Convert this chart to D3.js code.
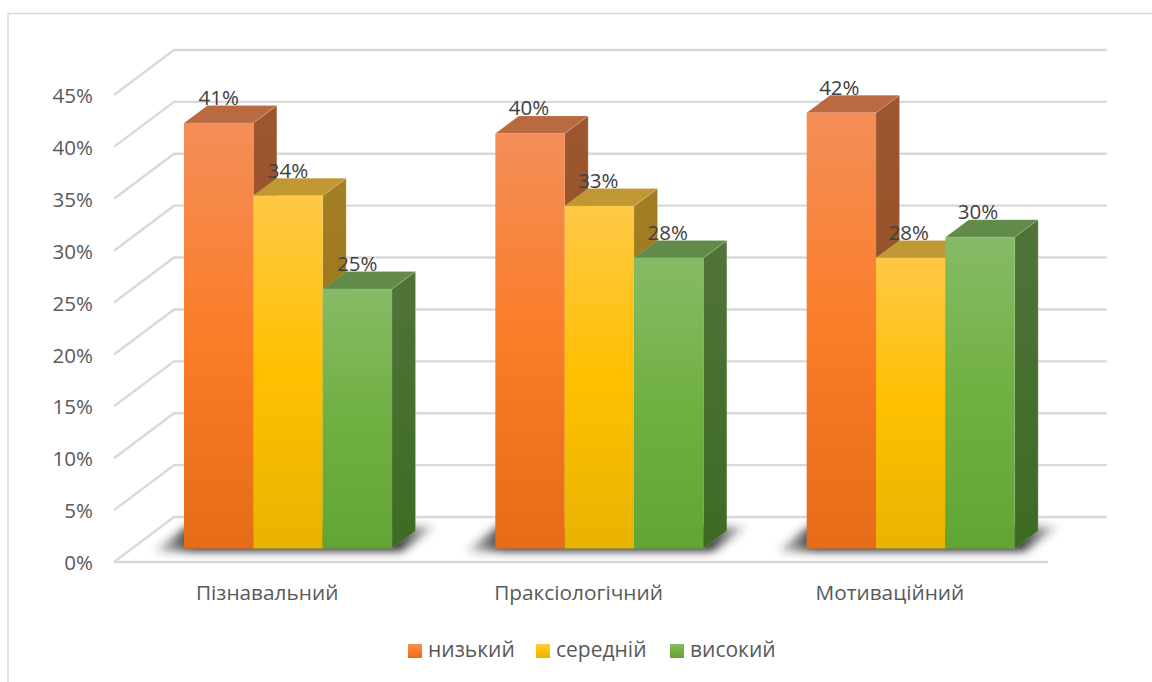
<!DOCTYPE html>
<html lang="uk">
<head>
<meta charset="UTF-8">
<title>Рівні сформованості</title>
<style>
    html, body { margin: 0; padding: 0; background: #fff; }
    svg { display: block; }
    text { font-family: "Open Sans", sans-serif; }
    .axis text { fill: #595959; font-size: 20.5px; }
    .axis.categories text { font-size: 20.8px; }
    .value-label { fill: #404040; font-size: 20.5px; text-anchor: middle; }
    .legend-label { fill: #595959; font-size: 21px; }
</style>
</head>
<body>
<svg id="chart" width="1152" height="682"></svg>
<script src="https://d3js.org/d3.v7.min.js"></script>
<script>
    const categories = ["Пізнавальний", "Праксіологічний", "Мотиваційний"];
    const seriesNames = ["низький", "середній", "високий"];
    const low = [41, 40, 42];
    const medium = [34, 33, 28];
    const high = [25, 28, 30];
    const yTicks = [0, 5, 10, 15, 20, 25, 30, 35, 40, 45];

    const seriesValues = [low, medium, high];

    // colours: front gradient (top, middle, bottom), top face, side face (top, bottom)
    const palette = [
        { front: ["#f48e58", "#fa7d28", "#e66c17"], top: "#b96a40", side: ["#9c5730", "#8c4a1c"] },
        { front: ["#ffc846", "#ffc000", "#e8b300"], top: "#bf9733", side: ["#a37e26", "#8f7008"] },
        { front: ["#86bb66", "#70b042", "#62a535"], top: "#628b4a", side: ["#51733a", "#3d6b23"] }
    ];

    const svg = d3.select("#chart");
    const defs = svg.append("defs");

    // chart frame, only top and left edge are inside the picture
    svg.append("path")
        .attr("d", "M8,682V13.5H1152")
        .attr("fill", "none")
        .attr("stroke", "#d9d9d9")
        .attr("stroke-width", 1.5);

    // 3d box
    const wallHeight = 467;
    const depth = { x: 60, y: -45 };
    const barDepth = { x: 23.5, y: -17.5 };
    const front = { left: 114, right: 1048, bottom: 562 };
    const barBase = 548.5;

    const y = d3.scaleLinear().domain([0, 45]).range([wallHeight, 0]);
    const x = d3.scaleBand().domain(categories).range([front.left, front.right]);
    const xBar = d3.scaleBand()
        .domain(d3.range(seriesNames.length))
        .range([70, 278]);

    // gradients
    palette.forEach((p, i) => {
        const g = defs.append("linearGradient").attr("id", "front" + i)
            .attr("x1", 0).attr("x2", 0).attr("y1", 0).attr("y2", 1);
        p.front.forEach((c, k) => g.append("stop").attr("offset", k / 2).attr("stop-color", c));
        const s = defs.append("linearGradient").attr("id", "side" + i)
            .attr("x1", 0).attr("x2", 0).attr("y1", 0).attr("y2", 1);
        p.side.forEach((c, k) => s.append("stop").attr("offset", k).attr("stop-color", c));
    });
    defs.append("filter").attr("id", "soft")
        .attr("x", "-20%").attr("y", "-80%").attr("width", "140%").attr("height", "260%")
        .append("feGaussianBlur").attr("stdDeviation", 4);
    const shade = defs.append("linearGradient").attr("id", "shade")
        .attr("x1", 0).attr("x2", 1).attr("y1", 0).attr("y2", 0);
    [[0, 0.15], [0.14, 0.95], [0.86, 0.95], [1, 0.1]].forEach(s =>
        shade.append("stop").attr("offset", s[0]).attr("stop-color", "#2b2b2b").attr("stop-opacity", s[1]));

    // gridlines: side wall + back wall
    const backBottom = front.bottom + depth.y;
    const grid = svg.append("g")
        .attr("fill", "none")
        .attr("stroke", "#d9d9d9")
        .attr("stroke-width", 2.4);
    grid.selectAll("path.wall")
        .data(yTicks)
        .join("path")
        .attr("class", "wall")
        .attr("d", d => {
            const yb = backBottom - wallHeight + y(d);
            return `M${front.left},${yb - depth.y}L${front.left + depth.x},${yb}H1107`;
        });
    grid.append("path").attr("d", `M${front.left},${front.bottom}H${front.right}`);

    // value axis
    const yAxis = d3.axisLeft(y)
        .tickValues(yTicks)
        .tickSize(0)
        .tickPadding(0)
        .tickFormat(d => d + "%");
    svg.append("g")
        .attr("class", "axis")
        .attr("transform", `translate(93,${front.bottom - wallHeight + 1})`)
        .call(yAxis)
        .call(g => g.select(".domain").remove());

    // category axis
    const xAxis = d3.axisBottom(x).tickSize(0).tickPadding(0);
    svg.append("g")
        .attr("class", "axis categories")
        .attr("transform", "translate(-2.5,585)")
        .call(xAxis)
        .call(g => g.select(".domain").remove());

    // bars
    const heightOf = v => wallHeight - y(v);
    const groups = svg.selectAll("g.category")
        .data(categories)
        .join("g")
        .attr("class", "category")
        .attr("transform", d => `translate(${x(d)},0)`);

    // blurred floor shadow under every group
    groups.append("path")
        .attr("d", () => {
            const l = xBar(0), r = xBar(2) + xBar.bandwidth();
            return `M${l - 30},${barBase + 3}L${l + 2},${barBase - 22}H${r + 44}L${r + 10},${barBase + 3}Z`;
        })
        .attr("fill", "url(#shade)")
        .attr("filter", "url(#soft)");

    const w = xBar.bandwidth();
    const labels = [];
    groups.each(function (cat, ci) {
        const g = d3.select(this);
        seriesNames.forEach((name, si) => {
            const v = seriesValues[si][ci];
            const x0 = xBar(si);
            const top = barBase - heightOf(v);
            g.append("path") // side face
                .attr("d", `M${x0 + w},${top}l${barDepth.x},${barDepth.y}V${barBase + barDepth.y}l${-barDepth.x},${-barDepth.y}Z`)
                .attr("fill", `url(#side${si})`)
                .attr("stroke", "rgba(255,255,255,0.25)")
                .attr("stroke-width", 0.6);
            g.append("path") // top face
                .attr("d", `M${x0},${top}l${barDepth.x},${barDepth.y}h${w}l${-barDepth.x},${-barDepth.y}Z`)
                .attr("fill", palette[si].top)
                .attr("stroke", "rgba(255,255,255,0.25)")
                .attr("stroke-width", 0.6);
            g.append("rect") // front face
                .attr("x", x0)
                .attr("y", top)
                .attr("width", w)
                .attr("height", heightOf(v))
                .attr("fill", `url(#front${si})`);
            labels.push({ x: x(cat) + x0 + w / 2 - ci, y: top - 18, v });
        });
    });

    // labels go last so that no bar covers them
    svg.selectAll("text.value-label")
        .data(labels)
        .join("text")
        .attr("class", "value-label")
        .attr("x", d => d.x)
        .attr("y", d => d.y)
        .text(d => d.v + "%");

    // legend
    const legendX = [408, 536, 670];
    const legend = svg.selectAll("g.legend")
        .data(seriesNames)
        .join("g")
        .attr("class", "legend")
        .attr("transform", (d, i) => `translate(${legendX[i]},644)`);
    legend.append("rect")
        .attr("width", 14)
        .attr("height", 14)
        .attr("fill", (d, i) => `url(#front${i})`);
    legend.append("text")
        .attr("class", "legend-label")
        .attr("x", 20)
        .attr("y", 13)
        .text(d => d);
</script>
</body>
</html>
